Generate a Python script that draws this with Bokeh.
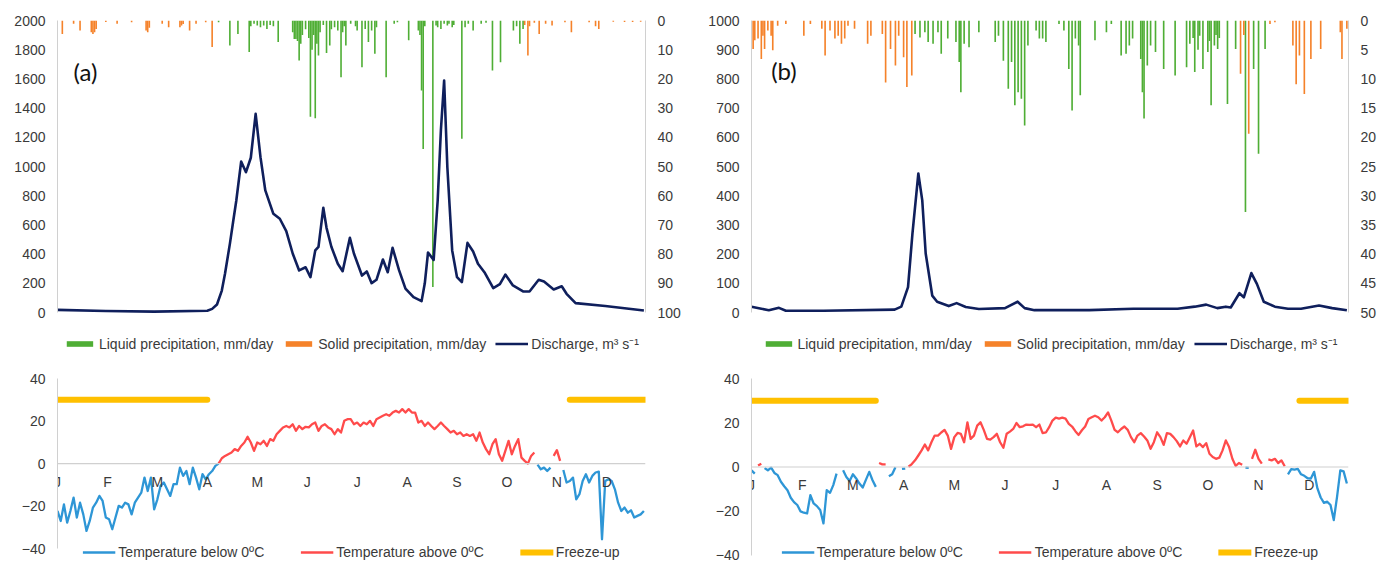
import numpy as np
from bokeh.plotting import figure
from bokeh.models import Range1d, LinearAxis, FixedTicker, Legend, LegendItem, Span, Label
from bokeh.layouts import row, column
from bokeh.embed import file_html
from bokeh.resources import INLINE
from bokeh.core.properties import value

# ---------------- data ----------------
months = ["J", "F", "M", "A", "M", "J", "J", "A", "S", "O", "N", "D"]

# Panel (a) discharge, m3/s
dis_a_day = [0, 30, 60, 93, 96, 99, 102, 104, 107, 109, 111, 114, 117, 120, 123, 126, 129, 134, 138, 142,
             146, 150, 154, 157, 160, 162, 165, 167, 170, 174, 177, 181.5, 184, 189, 192, 195, 198, 202, 205,
             208, 212, 216, 221, 226, 228, 230, 233.5, 236, 238, 240, 242, 245, 248, 251, 254.5, 258, 261,
             265, 270.5, 274.6, 278, 282.7, 289, 293, 298.7, 302, 308, 313, 316, 321.6, 340, 364]
dis_a_val = [18, 10, 6, 12, 25, 55, 150, 267, 470, 620, 767, 1034, 961, 1060, 1361, 1064, 836, 676, 642, 558,
             404, 288, 310, 242, 425, 450, 717, 580, 450, 334, 283, 511, 404, 253, 281, 201, 224, 363, 276,
             443, 290, 164, 105, 78, 200, 411, 360, 767, 1250, 1589, 995, 425, 242, 208, 477, 418, 334,
             276, 167, 194, 260, 185, 144, 144, 224, 212, 158, 180, 128, 64, 45, 14]

# Panel (a) precipitation, mm/day
liq_a_day = [100, 107, 112, 119, 120, 122, 124, 126, 128, 130, 132, 134, 137, 146, 147, 148, 149, 150, 151,
             152, 154, 156, 157, 158, 159, 160, 161, 162, 163, 165, 167, 169, 170, 172, 174, 176, 177, 178,
             179, 182, 185, 186, 189, 191, 193, 195, 197, 198, 204, 209, 211, 218, 224, 225, 226, 227, 228,
             233, 235, 236, 238, 240, 242, 243, 245, 246, 251, 253, 255, 258, 263, 266, 270, 275, 283, 285,
             287, 289]
liq_a_mm = [0.6, 8.6, 4.6, 10.8, 2.0, 1.1, 1.7, 2.3, 1.7, 2.9, 1.5, 2.0, 7.4, 4.0, 6.3, 6.3, 7.0, 13.7, 8.0,
            5.0, 3.0, 6.0, 33.0, 10.0, 5.0, 33.5, 8.0, 12.0, 4.0, 1.5, 11.1, 8.6, 3.0, 2.3, 3.4, 19.4, 4.0, 2.0,
            8.6, 1.1, 2.0, 3.4, 16.0, 2.9, 7.4, 3.4, 11.4, 2.3, 19.4, 1.1, 0.6, 6.8, 3.4, 5.0, 24.0, 44.0, 2.0,
            91.3, 1.7, 2.3, 2.9, 1.1, 1.7, 1.1, 2.3, 1.5, 40.5, 2.3, 1.1, 3.4, 1.1, 0.8, 17.1, 14.3, 3.4, 2.0,
            8.0, 2.9]
sol_a_day = [3, 10, 14, 21, 22, 23, 24, 30, 37, 46, 55, 56, 57, 65, 69, 76, 77, 78, 82, 86, 92, 96,
             290, 292, 293, 296, 299, 303, 307, 315, 319, 330, 334, 336, 345, 352, 357, 362]
sol_a_mm = [4.6, 1.1, 3.4, 4.0, 4.6, 4.0, 2.9, 0.5, 1.1, 0.6, 3.4, 4.0, 2.5, 1.1, 2.3, 2.3, 1.7, 1.2, 3.4,
            1.1, 0.6, 9.1, 1.5, 12.0, 2.0, 0.8, 4.6, 1.1, 1.7, 0.6, 4.0, 0.6, 2.0, 2.9, 0.4, 0.5, 0.5, 0.4]

# Panel (a) air temperature every 2nd day (day 0, 2, ... 364), deg C
temp_a = [-22.3, -27.0, -19.2, -27.8, -22.3, -16.0, -25.4, -18.4, -23.9, -31.7, -27.0, -20.7, -18.4, -15.2,
          -17.6, -25.4, -26.2, -30.9, -25.4, -19.9, -20.7, -18.4, -19.2, -23.9, -18.4, -16.0, -13.7, -6.6,
          -12.9, -6.6, -21.5, -16.8, -10.5, -8.9, -12.1, -15.2, -9.7, -9.7, -1.9, -5.8, -3.5, -9.7, -1.9,
          -6.6, -12.1, -5.0, -7.4, -5.0, -3.5, -1.1, 0.0,
          2.5, 3.6, 4.4, 5.2, 6.8, 6.0, 8.3, 9.9, 12.6, 9.9, 6.0, 9.9, 9.1, 10.7, 8.3, 11.5, 10.7, 13.8,
          15.4, 17.0, 17.7, 17.0, 18.5, 15.4, 17.7, 16.2, 17.3, 17.0, 18.5, 19.3, 15.4, 17.7, 18.5, 17.0,
          16.2, 13.8, 16.2, 14.6, 20.1, 20.9,
          20.9, 18.5, 19.3, 17.7, 19.3, 18.5, 20.1, 17.7, 20.9, 21.7, 22.5, 23.2, 22.5, 24.0, 24.8, 24.0,
          25.6, 24.0, 25.6, 24.0, 24.0, 19.3, 20.1, 17.7, 19.3, 17.7, 16.2, 17.7, 19.3, 17.7, 16.2, 14.6,
          15.4, 13.8, 14.6, 13.0, 13.8, 13.0, 13.8, 10.7, 14.6, 9.9, 6.8, 4.4, 9.1, 11.5, 4.4, 1.3, 6.0,
          10.7, 4.4, 8.3, 11.5, 2.8, 1.3, 0.0,
          3.6, 5.2, -0.5, -2.7, -1.9, -3.5, -1.9, 3.6, 6.3, 1.3, -3.0,
          -8.9, -8.2, -6.6, -16.8, -14.4, -8.2, -5.0, -8.9, -5.8, -4.2, -3.8, -35.6, -8.2, -7.4, -8.2,
          -12.1, -18.4, -22.3, -20.7, -23.1, -22.0, -25.4, -24.6, -23.9, -22.3]
freeze_a_start = [0, 318]
freeze_a_end = [93, 365]

# Panel (b) discharge, m3/s
dis_b_day = [0, 6, 10.6, 16.8, 21, 44, 87.5, 91.6, 95.7, 98.4, 102, 104.4, 106.5, 110.5, 113.5, 120.6, 125.4,
             131, 139, 155, 162.7, 167, 173, 206.5, 233.5, 260.5, 271, 278, 284.8, 290, 293, 298.3, 301,
             305.6, 309, 313.2, 320, 328, 336, 347, 355, 364]
dis_b_val = [20, 13, 8, 16, 6, 6, 10, 20, 87, 270, 476, 384, 202, 58, 37, 22, 32, 19, 12, 15, 37, 15, 8, 8,
             13, 13, 20, 27, 15, 20, 17, 66, 52, 135, 98, 37, 20, 13, 13, 24, 15, 8]

# Panel (b) precipitation, mm/day
liq_b_day = [100, 103, 106, 108, 111, 114, 116, 120, 125, 127, 128, 130, 133, 139, 149, 151, 154, 157, 159,
             161, 163, 165, 167, 169, 174, 176, 178, 180, 188, 191, 194, 196, 198, 200, 201, 210, 217, 220,
             226, 229, 231, 233, 238, 239, 240, 242, 244, 247, 252, 259, 266, 268, 270, 271, 273, 274, 276,
             279, 280, 281, 283, 284, 285, 286, 291, 296, 302, 307, 310, 314]
liq_b_mm = [2.3, 2.9, 2.0, 3.7, 4.0, 2.0, 5.7, 3.1, 3.7, 7.1, 12.3, 4.0, 4.6, 2.0, 3.7, 2.6, 6.9, 11.7, 7.1,
            14.5, 12.3, 13.4, 18.0, 4.3, 1.7, 3.1, 3.1, 3.7, 0.6, 1.7, 8.3, 15.4, 3.1, 4.3, 12.8, 3.4, 2.0, 0.6,
            6.0, 5.7, 4.3, 3.1, 6.6, 12.3, 16.8, 7.7, 4.3, 5.4, 8.3, 9.4, 8.0, 4.0, 3.0, 8.8, 5.0, 2.6, 8.3,
            5.4, 3.5, 14.5, 4.3, 2.5, 4.9, 3.0, 14.3, 4.9, 32.8, 8.3, 22.8, 4.9]
sol_b_day = [1, 2, 4, 6, 7, 8, 10, 12, 13, 16, 21, 32, 36, 43, 45, 48, 51, 53, 55, 57, 59, 63, 71, 73, 80,
             82, 85, 88, 90, 93, 95, 98, 299, 301, 304, 317, 320, 331, 333, 335, 338, 342, 348, 360, 361, 364]
sol_b_mm = [4.9, 3.4, 3.1, 6.6, 2.6, 4.9, 1.7, 2.6, 5.1, 0.9, 0.6, 2.6, 0.6, 1.4, 6.0, 1.7, 3.1, 2.6, 4.0,
            3.1, 0.9, 1.4, 4.0, 2.6, 2.3, 10.6, 4.9, 7.7, 2.6, 6.3, 11.4, 9.4, 9.1, 2.5, 19.4, 0.6, 0.3, 4.3,
            10.9, 6.0, 12.6, 6.6, 4.9, 2.0, 6.6, 1.4]

# Panel (b) air temperature every 2nd day (day 0, 2, ... 364), deg C
temp_b = [-1.5, -3.0, 0.7, 1.5, -0.5, -1.5, -0.3, -2.7, -3.7, -6.7, -8.7, -10.5, -13.9, -15.9, -17.2, -20.1,
          -20.7, -21.0, -12.7, -16.5, -17.7, -19.5, -25.5, -10.5, -11.7, -8.2, -3.0, 0.3, -1.5, -4.5, -6.3,
          -3.3, -5.2, -7.5, -9.3, -5.7, -2.2, -6.0, -9.0, 1.8, 1.2, 1.2, -4.2, -3.3, -0.1, 0.5, -0.9, -0.7,
          0.1, 1.3, 3.0, 5.2, 7.5, 10.2, 7.5, 11.2, 14.2, 14.2, 15.6, 16.8, 14.2, 8.2, 13.5, 15.4, 15.0,
          11.2, 20.2, 12.7, 14.2, 18.7, 20.2, 16.8, 12.7, 12.4, 13.5, 15.0, 11.2, 8.7, 15.0, 16.0, 17.2,
          19.9, 18.0, 18.4, 19.2, 19.0, 19.2, 18.0, 19.2, 15.3,
          15.6, 18.0, 21.0, 22.3, 21.9, 22.3, 21.9, 19.5, 18.3, 16.2, 14.5, 16.6, 18.3, 21.7, 22.5, 23.2,
          22.5, 21.0, 22.5, 24.7, 21.0, 16.8, 15.7, 17.2, 18.3, 16.8, 13.5, 11.2, 14.2, 15.3, 13.8, 12.0,
          8.2, 11.2, 15.7, 13.5, 10.0, 15.3, 15.0, 13.5, 11.7, 9.3, 12.0, 10.5, 13.5, 16.5, 9.3, 10.5, 9.0,
          10.8, 6.0, 4.5, 3.7, 4.2, 7.5, 12.0, 9.0, 3.7, 0.5, 1.8, 1.0, -0.3, -0.4, 3.7, 7.8, 3.7, 1.5,
          -1.5, 3.4, 3.0, 3.7, 1.8, 3.0, 0.3, -3.3, -1.0, -1.2, -0.9, -3.3, -4.0, -5.1, -5.2, -2.2, -9.7,
          -13.8, -16.2, -15.7, -17.2, -24.0, -13.5, -1.5, -2.0, -7.5]
freeze_b_start = [0, 335]
freeze_b_end = [76, 365]
freeze_level = 30

# ---------------- style ----------------
GREEN = "#4FAE35"
ORANGE = "#F5822A"
NAVY = "#0F1F5C"
BLUE = "#2E96D6"
RED = "#FF4B4B"
YELLOW = "#FFC000"
AXIS = "#D0D0D0"
TXT = "#3A3A3A"
FONT = "Liberation Sans"

# pixel layout: top chart frame 20..353 (axes stop at 312, legend below), bottom chart 367..560
TOP_T, TOP_F, TOP_B = 20, 333, 0
BOT_T, BOT_F, BOT_B = 14, 193, 3
EXT = 41 / 292.0          # fraction of the top axis span added below zero for the legend row


def style_axis(ax, ticks):
    ax.ticker = FixedTicker(ticks=ticks)
    ax.axis_line_color = AXIS
    ax.major_tick_line_color = None
    ax.minor_tick_line_color = None
    ax.major_label_text_font = FONT
    ax.major_label_text_font_size = "14px"
    ax.major_label_text_color = TXT
    ax.major_label_standoff = 6


def make_legend(items, location, spacing, glyph_h, fsize):
    return Legend(items=items, orientation="horizontal", location=location, glyph_width=33,
                  glyph_height=glyph_h, label_standoff=3, spacing=spacing, margin=0, padding=0,
                  border_line_color=None, background_fill_alpha=0, label_text_font=FONT,
                  label_text_font_size=fsize, label_text_color=TXT)


def top_fig(q_day, q_val, l_day, l_mm, s_day, s_mm, qmax, qstep, pmax, pstep, tag, tag_x, tag_y,
            bl, br, fw):
    p = figure(width=bl + fw + br, height=TOP_T + TOP_F + TOP_B, min_border_left=bl,
               min_border_right=br, min_border_top=TOP_T, min_border_bottom=TOP_B,
               x_range=Range1d(0, 365), y_range=Range1d(-qmax * EXT, qmax), output_backend="svg",
               toolbar_location=None, tools="")
    p.extra_y_ranges = {"p": Range1d(pmax * (1 + EXT), 0)}
    p.xaxis.visible = False
    p.grid.visible = False
    p.outline_line_color = None
    style_axis(p.yaxis[0], list(range(0, qmax + 1, qstep)))
    p.yaxis[0].bounds = (0, qmax)
    rax = LinearAxis(y_range_name="p")
    style_axis(rax, list(range(0, pmax + 1, pstep)))
    rax.bounds = (0, pmax)
    p.add_layout(rax, "right")

    rl = p.vbar(x=l_day, top=0, bottom=l_mm, width=1.0, y_range_name="p",
                fill_color=GREEN, line_color=None)
    rs = p.vbar(x=s_day, top=0, bottom=s_mm, width=1.0, y_range_name="p",
                fill_color=ORANGE, line_color=None)
    rq = p.line(q_day, q_val, line_width=2.6, line_color=NAVY, line_join="round")

    p.add_layout(Label(x=tag_x, y=tag_y, text=tag, text_font="Lato", text_font_size="24px",
                       text_baseline="middle", text_color="#111111"))
    items = [LegendItem(label="Liquid precipitation, mm/day", renderers=[rl]),
             LegendItem(label="Solid precipitation, mm/day", renderers=[rs]),
             LegendItem(label="Discharge, m\u00b3 s\u207b\u00b9", renderers=[rq])]
    p.add_layout(make_legend(items, "bottom_center", 9, 7, "14px"))
    return p


def bot_fig(temps, f_start, f_end, bl, br, fw, spacing, ylo, yhi):
    p = figure(width=bl + fw + br, height=BOT_T + BOT_F + BOT_B, min_border_left=bl,
               min_border_right=br, min_border_top=BOT_T, min_border_bottom=BOT_B,
               x_range=Range1d(0, 365), y_range=Range1d(ylo, yhi), output_backend="svg",
               toolbar_location=None, tools="")
    p.xaxis.visible = False
    p.grid.visible = False
    p.outline_line_color = None
    style_axis(p.yaxis[0], [-40, -20, 0, 20, 40])
    p.yaxis[0].bounds = (-40, 40)
    p.add_layout(Span(location=0, dimension="width", line_color=AXIS, line_width=1.2))

    t = np.array(temps, dtype=float)
    days = np.arange(0, 2 * len(t), 2)
    blue = np.where(t <= 0, t, np.nan)
    red = np.where(t >= 0, t, np.nan)
    rb = p.line(days, blue, line_width=2.3, line_color=BLUE, line_join="round")
    rr = p.line(days, red, line_width=2.3, line_color=RED, line_join="round")
    rf = p.segment(x0=f_start, x1=f_end, y0=freeze_level, y1=freeze_level, line_width=6,
                   line_color=YELLOW, line_cap="round")

    mx = [i * 31 for i in range(len(months))]
    p.text(x=mx, y=[0] * len(months), text=months, text_align="center", text_baseline="top",
           y_offset=10, text_font=value(FONT), text_font_size="14px", text_color=TXT)

    items = [LegendItem(label="Temperature below 0\u00baC", renderers=[rb]),
             LegendItem(label="Temperature above 0\u00baC", renderers=[rr]),
             LegendItem(label="Freeze-up", renderers=[rf])]
    p.add_layout(make_legend(items, "bottom_center", spacing, 12, "14px"))
    return p


pa = top_fig(dis_a_day, dis_a_val, liq_a_day, liq_a_mm, sol_a_day, sol_a_mm, 2000, 200, 100, 10,
             "(a)", 10, 1650, 57, 40, 588)
pb = top_fig(dis_b_day, dis_b_val, liq_b_day, liq_b_mm, sol_b_day, sol_b_mm, 1000, 100, 50, 5,
             "(b)", 12, 829, 66, 35, 597)
ta = bot_fig(temp_a, freeze_a_start, freeze_a_end, 57, 40, 588, 36, -45.6, 45.2)
tb = bot_fig(temp_b, freeze_b_start, freeze_b_end, 66, 35, 597, 36, -42.3, 45.0)

layout = row(column(pa, ta), column(pb, tb))
open("out.html", "w").write(file_html(layout, INLINE))
